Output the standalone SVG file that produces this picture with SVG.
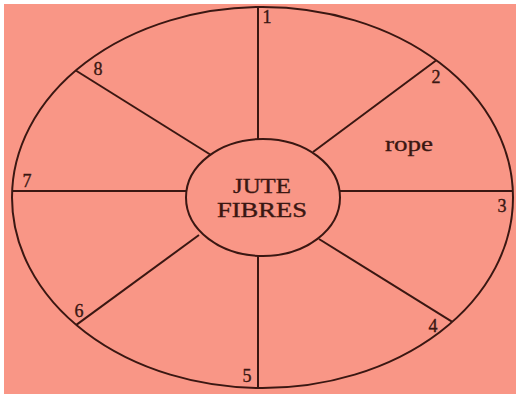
<svg xmlns="http://www.w3.org/2000/svg" width="516" height="394" viewBox="0 0 516 394">
<style>
.ln{stroke:#3a1712;stroke-width:2;fill:none;stroke-linecap:butt}
.t{font-family:"Liberation Serif","Times New Roman",serif;fill:#3a1712;stroke:#3a1712;stroke-width:0.35;text-anchor:middle}
.num{font-size:18px}
</style>
<rect x="0" y="0" width="516" height="394" fill="#ffffff"/>
<rect x="4" y="4" width="512" height="390" fill="#F99686"/>
<g id="outer">
<ellipse class="ln" cx="262.5" cy="197.5" rx="250.5" ry="190.5"/>
</g>
<g id="connectors">
<line class="ln" x1="258" y1="7" x2="258" y2="139"/>
<line class="ln" x1="313" y1="152" x2="436" y2="60.5"/>
<line class="ln" x1="339.5" y1="191" x2="513" y2="191"/>
<line class="ln" x1="319" y1="239" x2="452.3" y2="321.9"/>
<line class="ln" x1="258" y1="256" x2="258" y2="388"/>
<line class="ln" x1="199" y1="235" x2="76.3" y2="324.9"/>
<line class="ln" x1="12" y1="191" x2="186.5" y2="191"/>
<line class="ln" x1="211" y1="155" x2="75.8" y2="70.5"/>
</g>
<g id="center">
<ellipse class="ln" cx="263" cy="197.5" rx="77" ry="58.5"/>
<text class="t" x="262" y="193" font-size="20" textLength="58" lengthAdjust="spacingAndGlyphs">JUTE</text>
<text class="t" x="262" y="217" font-size="20" textLength="90" lengthAdjust="spacingAndGlyphs">FIBRES</text>
</g>
<g id="rope">
<text class="t" x="409" y="151" font-size="22" textLength="48" lengthAdjust="spacingAndGlyphs">rope</text>
</g>
<g id="labels">
<text class="t num" x="267" y="23">1</text>
<text class="t num" x="436" y="83">2</text>
<text class="t num" x="502" y="212">3</text>
<text class="t num" x="433" y="332">4</text>
<text class="t num" x="247" y="382">5</text>
<text class="t num" x="79" y="317">6</text>
<text class="t num" x="27" y="187">7</text>
<text class="t num" x="98" y="75">8</text>
</g>
</svg>
